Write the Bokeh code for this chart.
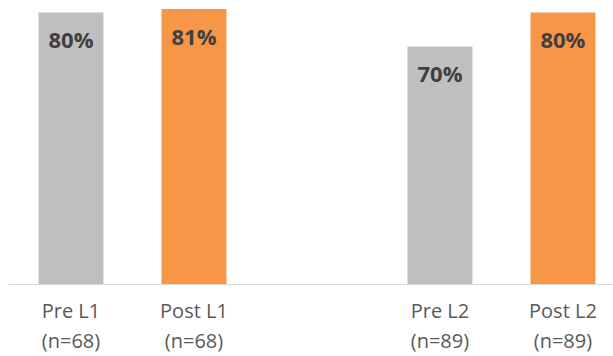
from bokeh.plotting import figure
from bokeh.models import ColumnDataSource, Range1d, FixedTicker, LinearAxis
from bokeh.core.properties import value
from bokeh.embed import file_html
from bokeh.resources import INLINE

# Data
categories = ["Pre L1", "Post L1", "Pre L2", "Post L2"]
sample_sizes = [68, 68, 89, 89]
groups = ["L1", "L1", "L2", "L2"]
phases = ["Pre", "Post", "Pre", "Post"]
percent = [80, 81, 70, 80]

# Styles
PHASE_COLORS = {"Pre": "#BFBFBF", "Post": "#F79646"}
LABEL_FONT = "Open Sans"
AXIS_TEXT = "#595959"

# Slot positions: bars sit in consecutive slots, one empty slot between groups
group_order = list(dict.fromkeys(groups))
xpos = [i + group_order.index(g) for i, g in enumerate(groups)]

source = ColumnDataSource(dict(
    x=xpos,
    top=percent,
    color=[PHASE_COLORS[ph] for ph in phases],
    label=[f"{v}%" for v in percent],
))

p = figure(
    width=613, height=356,
    output_backend="svg", toolbar_location=None,
    x_range=Range1d(-0.508, 4.411),
    y_range=Range1d(0, 83.5),
    y_axis_location=None,
    min_border_left=8, min_border_right=0,
    min_border_top=0, min_border_bottom=0,
)
p.outline_line_color = None
p.grid.visible = False
p.background_fill_color = "white"
p.border_fill_color = "white"

p.vbar(x="x", top="top", bottom=0, width=0.528, color="color",
       line_color=None, source=source)

p.text(x="x", y="top", text="label", source=source,
       text_align="center", text_baseline="middle", y_offset=27,
       text_font=value(LABEL_FONT), text_font_style="bold",
       text_font_size="22px", text_color="#404040")


def style_axis(axis, labels, standoff):
    axis.ticker = FixedTicker(ticks=xpos)
    axis.major_label_overrides = dict(zip(xpos, labels))
    axis.major_tick_line_color = None
    axis.minor_tick_line_color = None
    axis.major_tick_out = 0
    axis.minor_tick_out = 0
    axis.major_label_standoff = standoff
    axis.major_label_text_font = LABEL_FONT
    axis.major_label_text_font_size = "20px"
    axis.major_label_text_color = AXIS_TEXT


# Category names on the baseline axis, sample sizes on a second row below
ax = p.xaxis[0]
style_axis(ax, categories, 12)
ax.axis_line_color = "#D9D9D9"
ax.axis_line_width = 1

ax_n = LinearAxis()
style_axis(ax_n, [f"(n={n})" for n in sample_sizes], 0)
ax_n.axis_line_color = None
p.add_layout(ax_n, "below")

open("out.html", "w").write(file_html(p, INLINE))
